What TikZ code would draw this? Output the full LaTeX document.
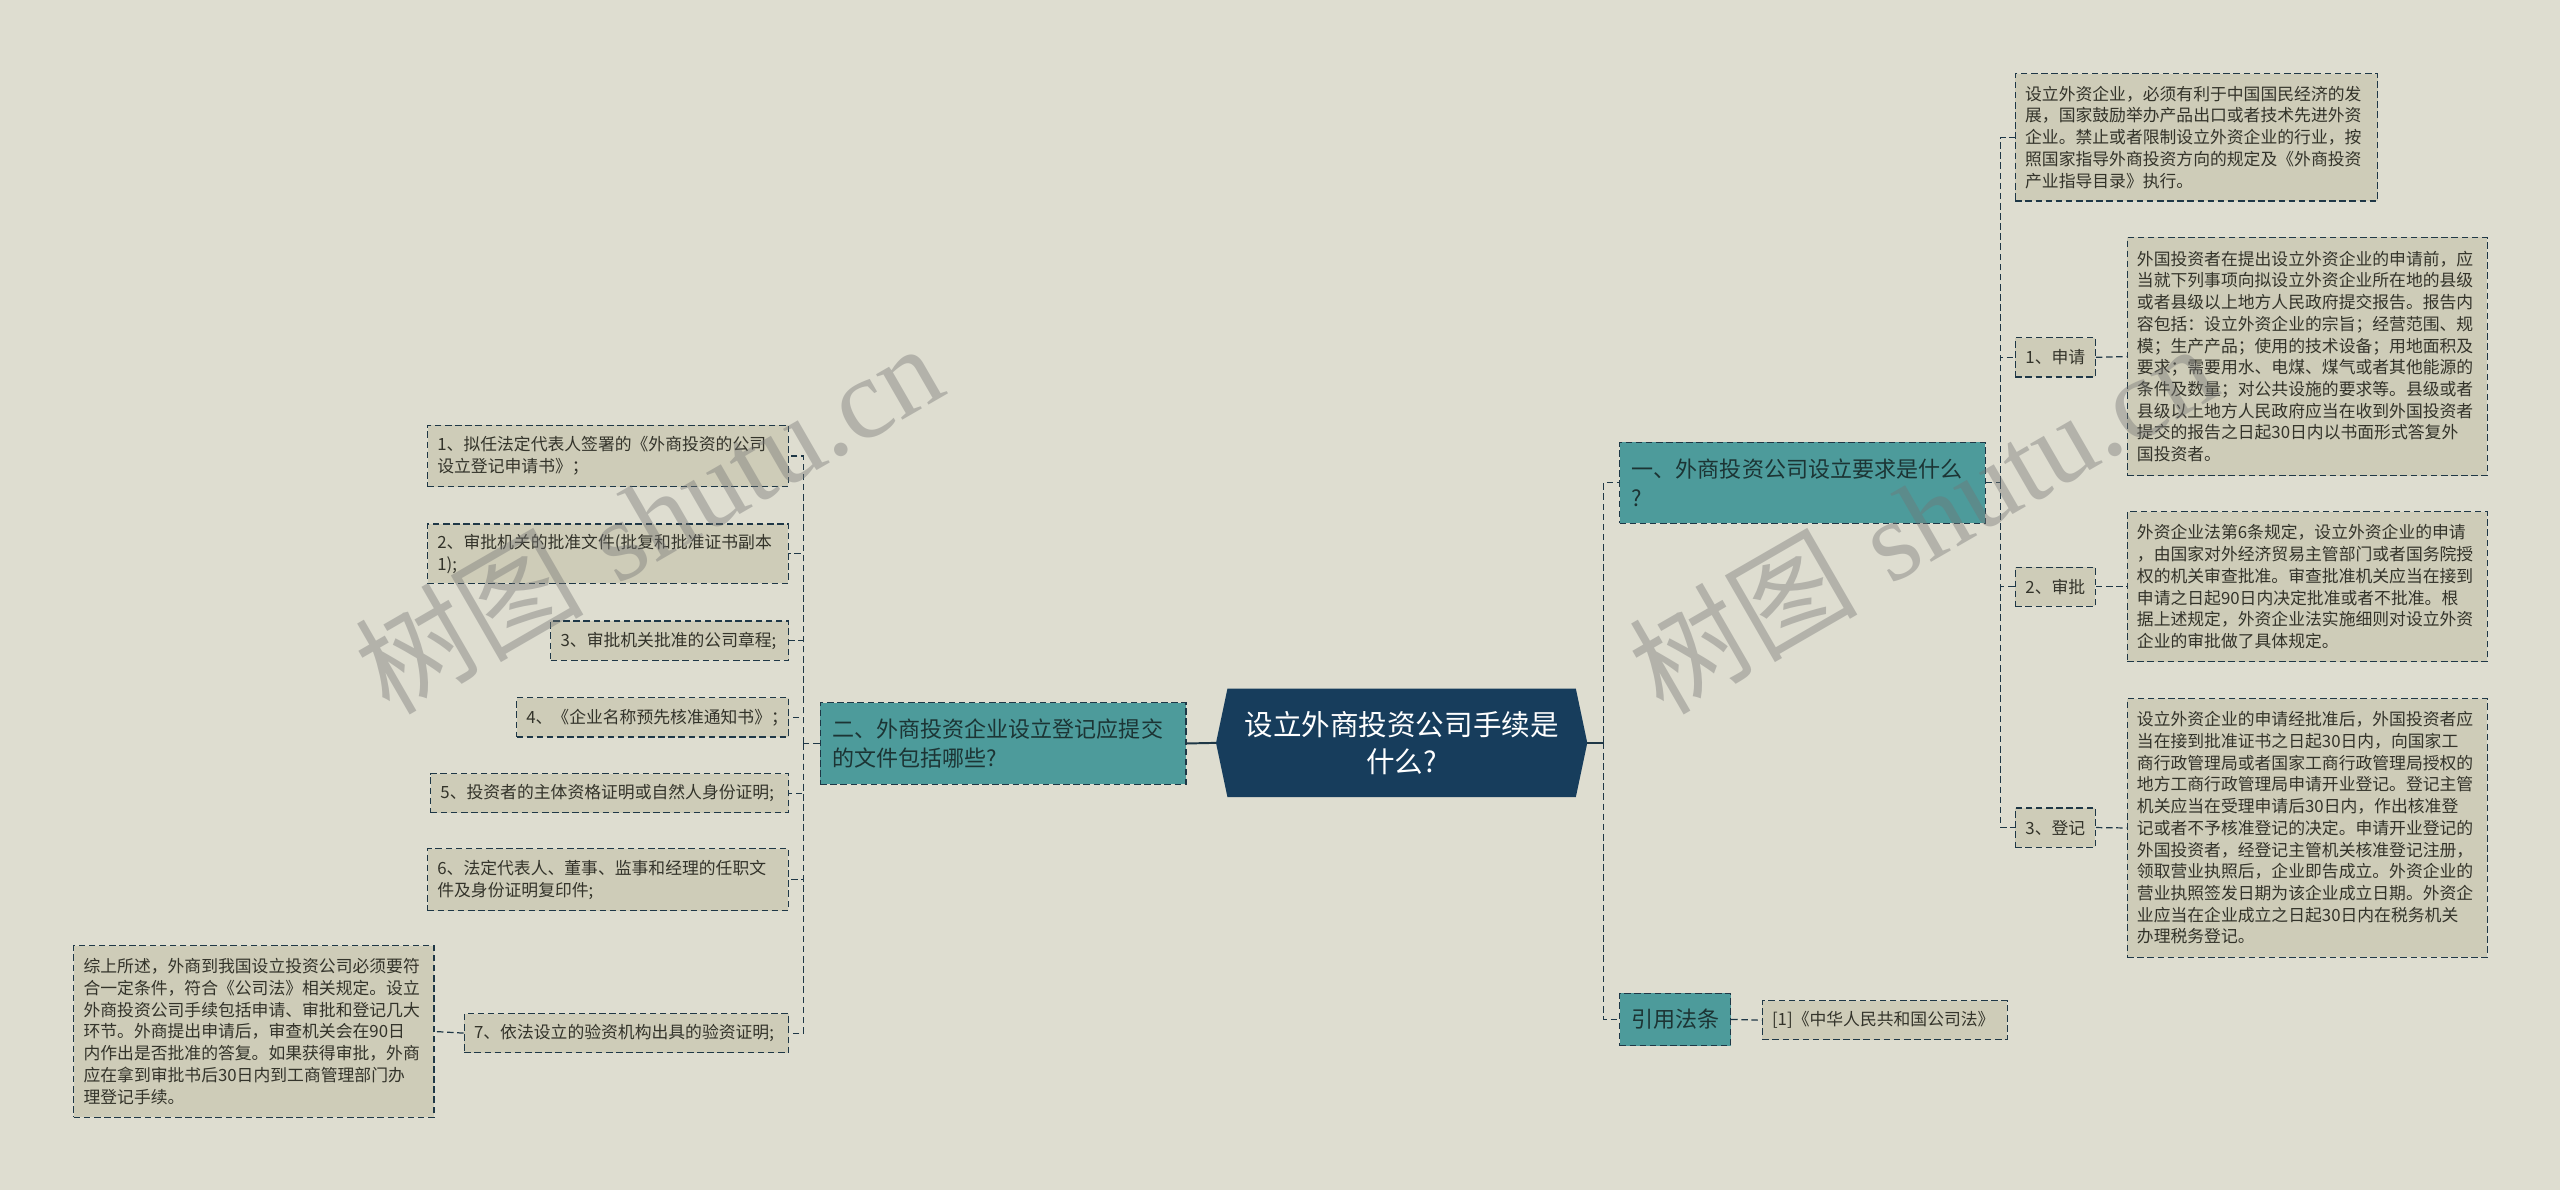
\documentclass[tikz,border=0pt]{standalone}
\usepackage{fontspec}
\newfontfamily\cjk{Noto Sans CJK SC}
\newfontfamily\wmserif{Liberation Serif}
\usetikzlibrary{backgrounds}
\definecolor{bgc}{HTML}{DEDDD0}
\definecolor{leafc}{HTML}{CECCB8}
\definecolor{tealc}{HTML}{4D9B9B}
\definecolor{rootc}{HTML}{173D5C}
\definecolor{linec}{HTML}{1E3746}
\definecolor{txtc}{HTML}{33332A}
\definecolor{topictxt}{HTML}{1C3434}
\tikzset{
  leaf/.style={draw=linec, line width=0.75pt, dash pattern=on 4pt off 2.2pt, fill=leafc, text=txtc,
    font=\cjk\fontsize{10.3}{13.3}\selectfont, align=left, anchor=north west, inner xsep=6pt, inner ysep=0pt},
  sub/.style={leaf, align=center},
  topic/.style={leaf, fill=tealc, text=topictxt, font=\cjk\fontsize{13.5}{17.5}\selectfont, inner xsep=7.5pt},
  link/.style={draw=linec, line width=0.75pt, dash pattern=on 4pt off 2.2pt},
  trunk/.style={draw=linec, line width=1.2pt},
  wm/.style={text=black!55, opacity=0.4, font=\fontsize{70}{70}\selectfont, inner sep=0pt}
}
\begin{document}
\begin{tikzpicture}[x=1pt,y=-1pt]
  \useasboundingbox (0,0) rectangle (1568,729);
  \node[text=white, font=\cjk\fontsize{17.5}{23}\selectfont, align=center, minimum width=227pt, minimum height=66pt, inner sep=0pt] (root) at (858.5,455) {设立外商投资公司手续是\\什么?};
  \begin{pgfonlayer}{background}
    \fill[bgc] (0,0) rectangle (1568,729);
    \fill[rootc] ([xshift=7pt]root.north west) -- ([xshift=-7pt]root.north east) -- (root.east)
      -- ([xshift=-7pt]root.south east) -- ([xshift=7pt]root.south west) -- (root.west) -- cycle;
  \end{pgfonlayer}

  \node[topic, text width=209pt, minimum height=49.5pt] (b1) at (991.6,270.6) {一、外商投资公司设立要求是什么\\?};
  \node[topic, text width=54pt, inner xsep=7pt, minimum height=32pt] (law) at (991.6,608) {引用法条};
  \node[leaf, text width=138pt, minimum height=24pt] (ref) at (1079,612.5) {[1]《中华人民共和国公司法》};
  \node[topic, text width=209pt, minimum height=50pt] (b2) at (502,430) {二、外商投资企业设立登记应提交\\的文件包括哪些?};

  \node[leaf, text width=210pt, minimum height=78pt] (note) at (1234,44.7) {设立外资企业，必须有利于中国国民经济的发\\展，国家鼓励举办产品出口或者技术先进外资\\企业。禁止或者限制设立外资企业的行业，按\\照国家指导外商投资方向的规定及《外商投资\\产业指导目录》执行。};
  \node[sub, text width=37pt, inner xsep=6pt, minimum height=24pt] (sq) at (1234,206.5) {1、申请};
  \node[sub, text width=37pt, inner xsep=6pt, minimum height=24pt] (sp) at (1234,347) {2、审批};
  \node[sub, text width=37pt, inner xsep=6pt, minimum height=24pt] (dj) at (1234,494.5) {3、登记};
  \node[leaf, text width=208.5pt, minimum height=146pt] (sqd) at (1302.5,145) {外国投资者在提出设立外资企业的申请前，应\\当就下列事项向拟设立外资企业所在地的县级\\或者县级以上地方人民政府提交报告。报告内\\容包括：设立外资企业的宗旨；经营范围、规\\模；生产产品；使用的技术设备；用地面积及\\要求；需要用水、电煤、煤气或者其他能源的\\条件及数量；对公共设施的要求等。县级或者\\县级以上地方人民政府应当在收到外国投资者\\提交的报告之日起30日内以书面形式答复外\\国投资者。};
  \node[leaf, text width=208.5pt, minimum height=92pt] (spd) at (1302.5,313) {外资企业法第6条规定，设立外资企业的申请\\，由国家对外经济贸易主管部门或者国务院授\\权的机关审查批准。审查批准机关应当在接到\\申请之日起90日内决定批准或者不批准。根\\据上述规定，外资企业法实施细则对设立外资\\企业的审批做了具体规定。};
  \node[leaf, text width=208.5pt, minimum height=158.5pt] (djd) at (1302.5,427.5) {设立外资企业的申请经批准后，外国投资者应\\当在接到批准证书之日起30日内，向国家工\\商行政管理局或者国家工商行政管理局授权的\\地方工商行政管理局申请开业登记。登记主管\\机关应当在受理申请后30日内，作出核准登\\记或者不予核准登记的决定。申请开业登记的\\外国投资者，经登记主管机关核准登记注册，\\领取营业执照后，企业即告成立。外资企业的\\营业执照签发日期为该企业成立日期。外资企\\业应当在企业成立之日起30日内在税务机关\\办理税务登记。};

  \node[leaf, text width=209pt, minimum height=37.7pt] (i1) at (261.5,260) {1、拟任法定代表人签署的《外商投资的公司\\设立登记申请书》；};
  \node[leaf, text width=209pt, minimum height=36.5pt] (i2) at (261.5,320.5) {2、审批机关的批准文件(批复和批准证书副本\\1);};
  \node[leaf, text width=133.7pt, minimum height=24pt] (i3) at (337,380) {3、审批机关批准的公司章程;};
  \node[leaf, text width=154.7pt, minimum height=24pt] (i4) at (316,427) {4、《企业名称预先核准通知书》；};
  \node[leaf, text width=207.3pt, minimum height=24pt] (i5) at (263.4,473.4) {5、投资者的主体资格证明或自然人身份证明;};
  \node[leaf, text width=209pt, minimum height=38pt] (i6) at (261.5,519.4) {6、法定代表人、董事、监事和经理的任职文\\件及身份证明复印件;};
  \node[leaf, text width=186.7pt, minimum height=24pt] (i7) at (284,620.4) {7、依法设立的验资机构出具的验资证明;};
  \node[leaf, text width=208.6pt, minimum height=105.2pt] (sum) at (44.8,578.8) {综上所述，外商到我国设立投资公司必须要符\\合一定条件，符合《公司法》相关规定。设立\\外商投资公司手续包括申请、审批和登记几大\\环节。外商提出申请后，审查机关会在90日\\内作出是否批准的答复。如果获得审批，外商\\应在拿到审批书后30日内到工商管理部门办\\理登记手续。};

  \draw[trunk] (root.east) -- ++(10,0) coordinate (rj);
  \draw[link] (rj) |- (b1.west);
  \draw[link] (rj) |- (law.west);
  \draw[link] (law.east) -- (ref.west);
  \draw[link] (b1.east) -- ++(9,0) coordinate (bj);
  \foreach \n in {note,sq,sp,dj}
    \draw[link] (bj) |- (\n.west);
  \draw[link] (sq.east) -- (sqd.west);
  \draw[link] (sp.east) -- (spd.west);
  \draw[link] (dj.east) -- (djd.west);
  \draw[trunk] (root.west) -- (b2.east);
  \draw[link] (b2.west) -- ++(-10,0) coordinate (lj);
  \foreach \n in {i1,i2,i3,i4,i5,i6,i7}
    \draw[link] (lj) |- (\n.east);
  \draw[link] (i7.west) -- (sum.east);

  \node[wm, rotate=30] (wm1) at (397,317) {{\cjk 树图} {\wmserif shutu.cn}};
  \node[wm, rotate=30] (wm2) at (1177,317) {{\cjk 树图} {\wmserif shutu.cn}};
\end{tikzpicture}
\end{document}
